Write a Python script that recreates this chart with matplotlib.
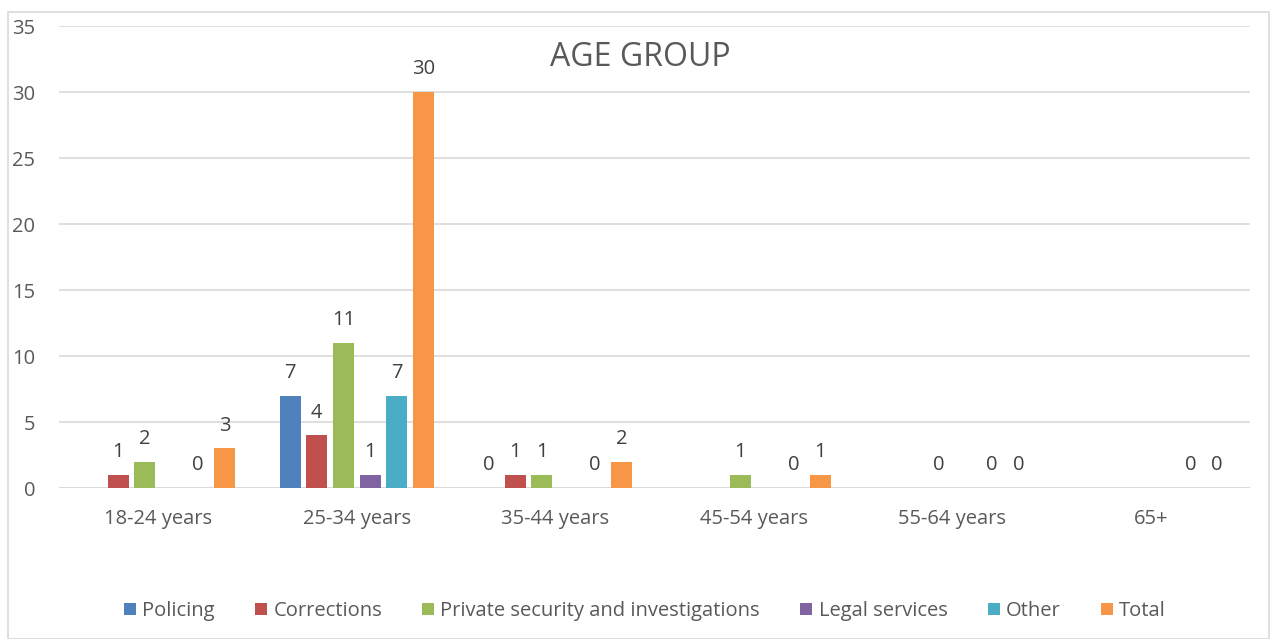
import numpy as np
import matplotlib
matplotlib.use("Agg")
import matplotlib.pyplot as plt
from matplotlib.patches import Rectangle

nan = np.nan
categories = ["18-24 years", "25-34 years", "35-44 years", "45-54 years", "55-64 years", "65+"]
series_names = ["Policing", "Corrections", "Private security and investigations",
                "Legal services", "Other", "Total"]
policing = [nan, 7, 0, nan, nan, nan]
corrections = [1, 4, 1, nan, nan, nan]
private_security = [2, 11, 1, 1, 0, nan]
legal_services = [nan, 1, nan, nan, nan, nan]
other = [0, 7, 0, 0, 0, 0]
total = [3, 30, 2, 1, 0, 0]
yticks = [0, 5, 10, 15, 20, 25, 30, 35]

series = [policing, corrections, private_security, legal_services, other, total]
colors = ["#4F81BD", "#C0504D", "#9BBB59", "#8064A2", "#4BACC6", "#F79646"]

plt.rcParams["font.family"] = ["Open Sans", "DejaVu Sans"]
text_color = "#595959"
fs = 14.5

fig = plt.figure(figsize=(12.7, 6.39), dpi=100)
W, H = 1270, 639
fig.patches.append(Rectangle((8 / W, 0), (W - 9) / W, (H - 12) / H,
                             transform=fig.transFigure, fill=False,
                             edgecolor="#d9d9d9", linewidth=1.2))

ax = fig.add_axes([59 / W, (H - 488) / H, (1250 - 59) / W, (488 - 26) / H])
x = np.arange(len(categories))
step = 0.134
width = 0.106
handles = []
for i, (name, vals, col) in enumerate(zip(series_names, series, colors)):
    vals = np.array(vals, dtype=float)
    pos = x + (i - 2.5) * step
    mask = ~np.isnan(vals)
    bars = ax.bar(pos[mask], vals[mask], width=width, color=col, label=name, zorder=3)
    handles.append(bars)
    for px, v in zip(pos[mask], vals[mask]):
        ax.annotate(f"{int(v)}", (px, v), xytext=(0, 9), textcoords="offset points",
                    ha="center", va="bottom", fontsize=fs, color="#404040")

ax.set_xlim(-0.5, len(categories) - 0.5)
ax.set_ylim(0, 35)
ax.set_yticks(yticks)
ax.set_yticklabels([str(t) for t in yticks], fontsize=fs, color=text_color)
ax.set_xticks(x)
ax.set_xticklabels(categories, fontsize=fs, color=text_color)
ax.tick_params(axis="y", length=0, pad=17)
ax.tick_params(axis="x", length=0, pad=15)
ax.grid(axis="y", color="#d9d9d9", linewidth=1.2, zorder=0)
for s in ax.spines.values():
    s.set_visible(False)
ax.axhline(0, color="#d9d9d9", linewidth=1.2, zorder=1)

fig.text(640 / W, 1 - 58 / H, "AGE GROUP", ha="center", va="center",
         fontsize=23, color=text_color)

fig.legend(handles=handles, labels=series_names, loc="center",
           bbox_to_anchor=(645 / W, 1 - 611 / H), ncol=6, frameon=False,
           fontsize=fs, handlelength=0.6, handleheight=0.6, handletextpad=0.3,
           columnspacing=2.0, labelcolor=text_color)

fig.savefig("out.png", dpi=100, facecolor="white")
